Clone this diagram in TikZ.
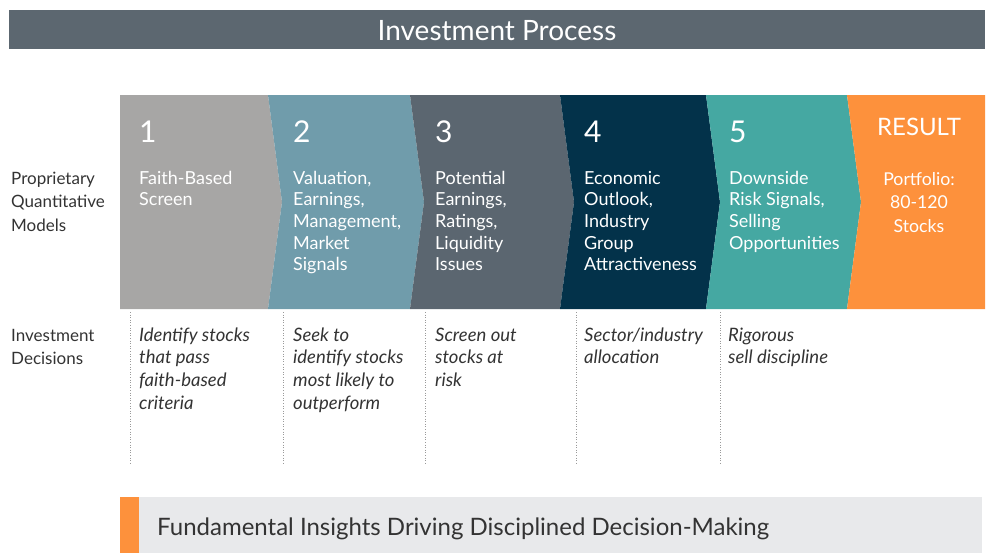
\documentclass[tikz,border=0pt]{standalone}
\usepackage{fontspec}
\setmainfont{Lato}
\definecolor{titlegray}{HTML}{5C6770}
\definecolor{cone}{HTML}{A7A6A5}
\definecolor{ctwo}{HTML}{709CAB}
\definecolor{cthree}{HTML}{5B6670}
\definecolor{cfour}{HTML}{03324A}
\definecolor{cfive}{HTML}{45A8A2}
\definecolor{corange}{HTML}{FD913C}
\definecolor{barbg}{HTML}{E8E9EB}
\definecolor{txtdark}{HTML}{333333}
\definecolor{dotgray}{HTML}{9A9A9A}
\newcommand{\stkl}[1]{\begin{tabular}[t]{@{}l@{}}#1\end{tabular}}
\newcommand{\stkc}[1]{\begin{tabular}[t]{@{}c@{}}#1\end{tabular}}
\tikzset{
  numtxt/.style={anchor=base west, inner sep=0pt, text=white, font=\fontsize{30}{34}\selectfont},
  steptxt/.style={anchor=base west, inner sep=0pt, text=white, font=\fontsize{18}{21.7}\selectfont},
  sidetxt/.style={anchor=base west, inner sep=0pt, text=txtdark, font=\fontsize{17}{23.5}\selectfont},
  dectxt/.style={anchor=base west, inner sep=0pt, text=txtdark, font=\fontsize{18.5}{22.7}\selectfont\itshape},
  dotline/.style={draw=dotgray, line width=0.6pt, dotted}
}
\begin{document}
\begin{tikzpicture}[x=1pt,y=-1pt]
\useasboundingbox (0,0) rectangle (995,555);
% title bar
\fill[titlegray] (9,10) rectangle (985,49);
\node[text=white, inner sep=0pt, font=\fontsize{28}{32}\selectfont] (title) at (497,31) {Investment Process};
% chevrons
\fill[cone] (120,95) -- (268,95) -- (282,202) -- (268,309) -- (120,309) -- cycle;
\fill[ctwo] (268,95) -- (410,95) -- (424,202) -- (410,309) -- (268,309) -- (282,202) -- cycle;
\fill[cthree] (410,95) -- (560,95) -- (574,202) -- (560,309) -- (410,309) -- (424,202) -- cycle;
\fill[cfour] (560,95) -- (706,95) -- (720,202) -- (706,309) -- (560,309) -- (574,202) -- cycle;
\fill[cfive] (706,95) -- (847,95) -- (861,202) -- (847,309) -- (706,309) -- (720,202) -- cycle;
\fill[corange] (847,95) -- (985,95) -- (985,309) -- (847,309) -- (861,202) -- cycle;
% numbers
\node[numtxt] (n1) at (139,142) {1};
\node[numtxt] (n2) at (293,142) {2};
\node[numtxt] (n3) at (435,142) {3};
\node[numtxt] (n4) at (584,142) {4};
\node[numtxt] (n5) at (729,142) {5};
\node[anchor=base, inner sep=0pt, text=white, font=\fontsize{24}{28}\selectfont] (res) at (919,135) {RESULT};
% step texts
\node[steptxt] (s1) at (139,184) {\stkl{Faith-Based\\Screen}};
\node[steptxt] (s2) at (293,184) {\stkl{Valuation,\\Earnings,\\Management,\\Market\\Signals}};
\node[steptxt] (s3) at (435,184) {\stkl{Potential\\Earnings,\\Ratings,\\Liquidity\\Issues}};
\node[steptxt] (s4) at (584,184) {\stkl{Economic\\Outlook,\\Industry\\Group\\Attractiveness}};
\node[steptxt] (s5) at (729,184) {\stkl{Downside\\Risk Signals,\\Selling\\Opportunities}};
\node[anchor=base, inner sep=0pt, text=white, font=\fontsize{17.7}{23.5}\selectfont] (sr) at (919,185) {\stkc{Portfolio:\\80-120\\Stocks}};
% side labels
\node[sidetxt] (pqm) at (11,184) {\stkl{Proprietary\\Quantitative\\Models}};
\node[sidetxt] (idec) at (11,341) {\stkl{Investment\\Decisions}};
% dotted lines
\foreach \i/\x in {1/130,2/283,3/425,4/576,5/720}{
  \coordinate (dt\i) at (\x,312);
  \coordinate (db\i) at (\x,463);
  \draw[dotline] (dt\i) -- (db\i);
}
% decisions
\node[dectxt] (d1) at (139,341) {\stkl{Identify stocks\\that pass\\faith-based\\criteria}};
\node[dectxt] (d2) at (293,341) {\stkl{Seek to\\identify stocks\\most likely to\\outperform}};
\node[dectxt] (d3) at (435,341) {\stkl{Screen out\\stocks at\\risk}};
\node[dectxt] (d4) at (584,341) {\stkl{Sector/industry\\allocation}};
\node[dectxt] (d5) at (728,341) {\stkl{Rigorous\\sell discipline}};
% bottom bar
\fill[corange] (120,497) rectangle (139,553);
\fill[barbg] (139,497) rectangle (982,553);
\node[anchor=base west, inner sep=0pt, text=txtdark, font=\fontsize{24}{28}\selectfont] (bottom) at (157,535) {Fundamental Insights Driving Disciplined Decision-Making};
\end{tikzpicture}
\end{document}
